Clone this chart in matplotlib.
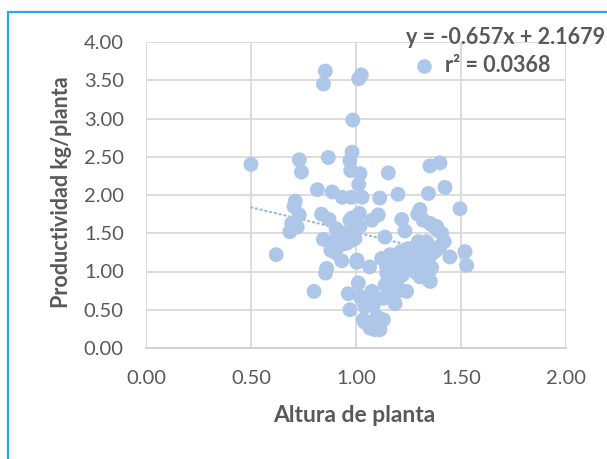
import matplotlib
matplotlib.use("Agg")
import matplotlib.pyplot as plt
from matplotlib.patches import Rectangle
import numpy as np

plt.rcParams['font.family'] = ['Lato', 'DejaVu Sans']

altura = [0.50, 0.62, 0.685, 0.694, 0.711, 0.705, 0.730, 0.720, 0.730, 0.740,
          0.800, 0.816, 0.836, 0.845, 0.845, 0.854, 0.855, 0.860, 0.868, 0.872,
          0.880, 0.887, 0.892, 0.905, 0.932, 0.935, 0.940, 0.948, 0.956, 0.963,
          0.971, 0.971, 0.973, 0.975, 0.977, 0.981, 0.971, 0.985, 0.980, 0.995,
          0.995, 1.003, 1.005, 1.011, 1.013, 1.013, 1.016, 1.019, 1.019, 1.020,
          1.025, 1.029, 1.035, 1.035, 1.040, 1.043, 1.065, 1.067, 1.075, 1.075,
          1.082, 1.082, 1.090, 1.099, 1.106, 1.113, 1.114, 1.122, 1.130, 1.130,
          1.138, 1.138, 1.146, 1.146, 1.146, 1.154, 1.154, 1.162, 1.162, 1.178,
          1.186, 1.186, 1.186, 1.194, 1.194, 1.200, 1.213, 1.218, 1.225, 1.233,
          1.241, 1.257, 1.265, 1.265, 1.289, 1.294, 1.297, 1.305, 1.305, 1.305,
          1.320, 1.320, 1.320, 1.336, 1.345, 1.345, 1.352, 1.352, 1.354, 1.360,
          1.384, 1.384, 1.387, 1.400, 1.408, 1.420, 1.424, 1.447, 1.495, 1.519,
          1.527, 1.240, 1.280, 1.350, 1.370, 1.330, 1.400, 1.300, 1.360, 1.220,
          1.250, 1.310, 1.190, 1.350, 0.910, 0.930, 0.900]

productividad = [2.40, 1.22, 1.52, 1.63, 1.92, 1.85, 1.74, 1.58, 2.46, 2.30,
                 0.74, 2.07, 1.75, 1.42, 3.45, 3.62, 0.98, 1.04, 2.49, 1.68,
                 1.28, 2.04, 1.38, 1.56, 1.14, 1.97, 1.50, 1.46, 1.37, 0.71,
                 0.50, 1.67, 1.40, 2.32, 1.97, 2.56, 2.45, 2.98, 1.70, 1.52,
                 1.43, 1.12, 1.15, 0.85, 2.14, 3.52, 1.76, 2.28, 1.59, 0.67,
                 3.57, 1.97, 0.61, 0.37, 0.34, 0.54, 1.06, 0.26, 0.74, 1.67,
                 0.63, 0.56, 0.24, 0.41, 1.74, 1.96, 0.24, 1.17, 0.37, 0.65,
                 0.82, 1.45, 1.06, 0.98, 0.85, 2.29, 0.67, 1.22, 1.06, 0.93,
                 0.71, 0.58, 0.82, 1.02, 0.85, 2.01, 1.26, 1.68, 1.11, 1.53,
                 0.74, 1.04, 1.26, 1.02, 0.98, 1.75, 1.39, 1.81, 0.93, 1.37,
                 1.67, 1.08, 1.11, 1.39, 2.02, 0.89, 2.38, 1.63, 0.87, 1.61,
                 1.59, 1.28, 1.54, 2.42, 1.50, 1.39, 2.10, 1.19, 1.82, 1.26,
                 1.08, 1.20, 1.15, 1.20, 1.25, 1.30, 1.33, 1.22, 1.05, 0.95,
                 1.30, 1.30, 1.15, 1.01, 1.45, 1.35, 1.25]

slope = -0.657
intercept = 2.1679
x_ticks = [0.0, 0.5, 1.0, 1.5, 2.0]
y_ticks = [0.0, 0.5, 1.0, 1.5, 2.0, 2.5, 3.0, 3.5, 4.0]

W, H = 607, 459
fig = plt.figure(figsize=(W / 100, H / 100), dpi=100)
fig.patch.set_facecolor('white')

# chart border
fig.add_artist(Rectangle((8 / W, -0.1), 1.2, (1 - 12 / H) + 0.1,
                         transform=fig.transFigure, fill=False,
                         edgecolor='#2CA8E0', linewidth=1.6))

ax = fig.add_axes([146 / W, 1 - 348 / H, (566 - 146) / W, (348 - 42) / H])
ax.set_xlim(0, 2)
ax.set_ylim(0, 4)
ax.set_xticks(x_ticks)
ax.set_yticks(y_ticks)
ax.set_xticklabels([f"{v:.2f}" for v in x_ticks])
ax.set_yticklabels([f"{v:.2f}" for v in y_ticks])
ax.grid(True, color='#D9D9D9', linewidth=1.3, zorder=0)
ax.set_axisbelow(True)
for s in ['top', 'right', 'left']:
    ax.spines[s].set_visible(False)
ax.spines['bottom'].set_color('#D0D0D0')
ax.spines['bottom'].set_linewidth(1.3)
ax.tick_params(axis='both', length=0, labelsize=14.5, colors='#595959')
ax.tick_params(axis='y', pad=16)
ax.tick_params(axis='x', pad=16)

marker_color = '#AEC7E8'
xs = np.array(altura)
tx = np.array([xs.min(), xs.max()])
ax.plot(tx, slope * tx + intercept, color='#9DBCE3', linewidth=1.6,
        linestyle=(0, (0.6, 1.6)), dash_capstyle='round', zorder=2)
ax.scatter(altura, productividad, s=115, color=marker_color, edgecolors='none', zorder=3)

ax.set_xlabel('Altura de planta', fontsize=16.5, fontweight='bold', color='#595959')
ax.set_ylabel('Productividad kg/planta', fontsize=15.5, fontweight='bold', color='#595959')
ax.xaxis.label.set_va('center')
ax.yaxis.label.set_va('center')
ax.xaxis.set_label_coords((354 - 146) / 420, (348 - 415) / 306)
ax.yaxis.set_label_coords((62 - 146) / 420, (348 - 192) / 306)

# trendline label
fig.text(506 / W, 1 - 37 / H, 'y = -0.657x + 2.1679', ha='center', va='center',
         fontsize=15.5, fontweight='bold', color='#595959')
fig.text(445 / W, 1 - 66 / H, 'r² = 0.0368', ha='left', va='center',
         fontsize=15.5, fontweight='bold', color='#595959')
fig.add_artist(plt.Line2D([424 / W], [1 - 66 / H], marker='o', markersize=10.5,
                          color=marker_color, markeredgewidth=0, transform=fig.transFigure))

fig.savefig('out.png', dpi=100)
